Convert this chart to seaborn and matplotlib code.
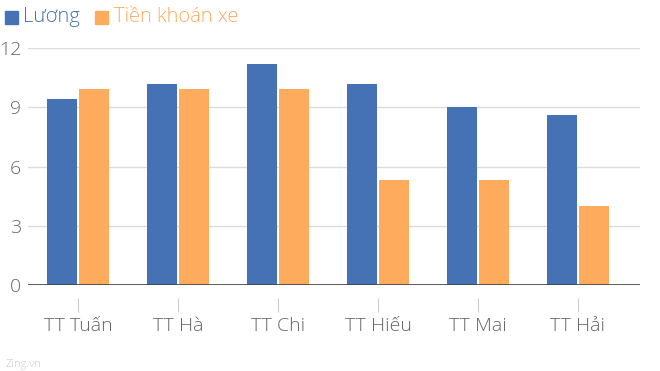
import matplotlib
matplotlib.use("Agg")
import matplotlib.pyplot as plt
import seaborn as sns
import pandas as pd
from matplotlib.patches import Rectangle

categories = ["TT Tuấn", "TT Hà", "TT Chi", "TT Hiếu", "TT Mai", "TT Hải"]
luong = [9.4, 10.2, 11.2, 10.2, 9.0, 8.6]
tien_khoan_xe = [9.9, 9.9, 9.9, 5.3, 5.3, 4.0]
series_names = ["Lương", "Tiền khoán xe"]
y_ticks = [0, 3, 6, 9, 12]

BLUE = "#4472B4"
ORANGE = "#FFAB5E"
TEXT = "#666666"

df = pd.DataFrame({
    "cat": categories * 2,
    "value": luong + tien_khoan_xe,
    "series": [series_names[0]] * len(categories) + [series_names[1]] * len(categories),
})

sns.set_theme(style="white")
plt.rcParams["font.family"] = ["Open Sans", "DejaVu Sans"]
plt.rcParams["font.weight"] = "light"

fig = plt.figure(figsize=(6.6, 3.71), dpi=100)
ax = fig.add_axes([28 / 660, (371 - 285) / 371, (640 - 28) / 660, (285 - 48) / 371])

sns.barplot(data=df, x="cat", y="value", hue="series", order=categories,
            hue_order=series_names, palette=[BLUE, ORANGE], width=0.64, gap=0.06,
            linewidth=0, saturation=1, legend=False, ax=ax)

ax.set_xlim(-0.5, 5.62)
ax.set_ylim(0, 12)
ax.set_yticks(y_ticks)
ax.set_yticklabels([str(t) for t in y_ticks])
ax.grid(axis="y", color="#dcdcdc", linewidth=1)
ax.set_axisbelow(True)
ax.axhline(0, color="#404040", linewidth=1.2, zorder=5)
for s in ["top", "right", "left"]:
    ax.spines[s].set_visible(False)
ax.spines["bottom"].set_position(("outward", 9))
ax.spines["bottom"].set_visible(False)
ax.tick_params(axis="x", direction="out", length=10, width=0.8, color="#cccccc",
               pad=4, labelsize=14, labelcolor=TEXT, bottom=True)
ax.tick_params(axis="y", length=0, pad=5, labelsize=14, labelcolor=TEXT)
ax.set_xlabel("")
ax.set_ylabel("")

# legend
fig.patches.append(Rectangle((5 / 660, 1 - 24 / 371), 13 / 660, 13 / 371,
                             transform=fig.transFigure, color=BLUE))
fig.text(23 / 660, 1 - 17 / 371, series_names[0], color=BLUE, fontsize=14.5, va="center")
fig.patches.append(Rectangle((95 / 660, 1 - 24 / 371), 13 / 660, 13 / 371,
                             transform=fig.transFigure, color=ORANGE))
fig.text(114 / 660, 1 - 17 / 371, series_names[1], color=ORANGE, fontsize=14.5, va="center")

fig.text(5 / 660, 1 - 364 / 371, "Zing.vn", color="#c8c8c8", fontsize=8, va="center")

fig.savefig("out.png", dpi=100)
